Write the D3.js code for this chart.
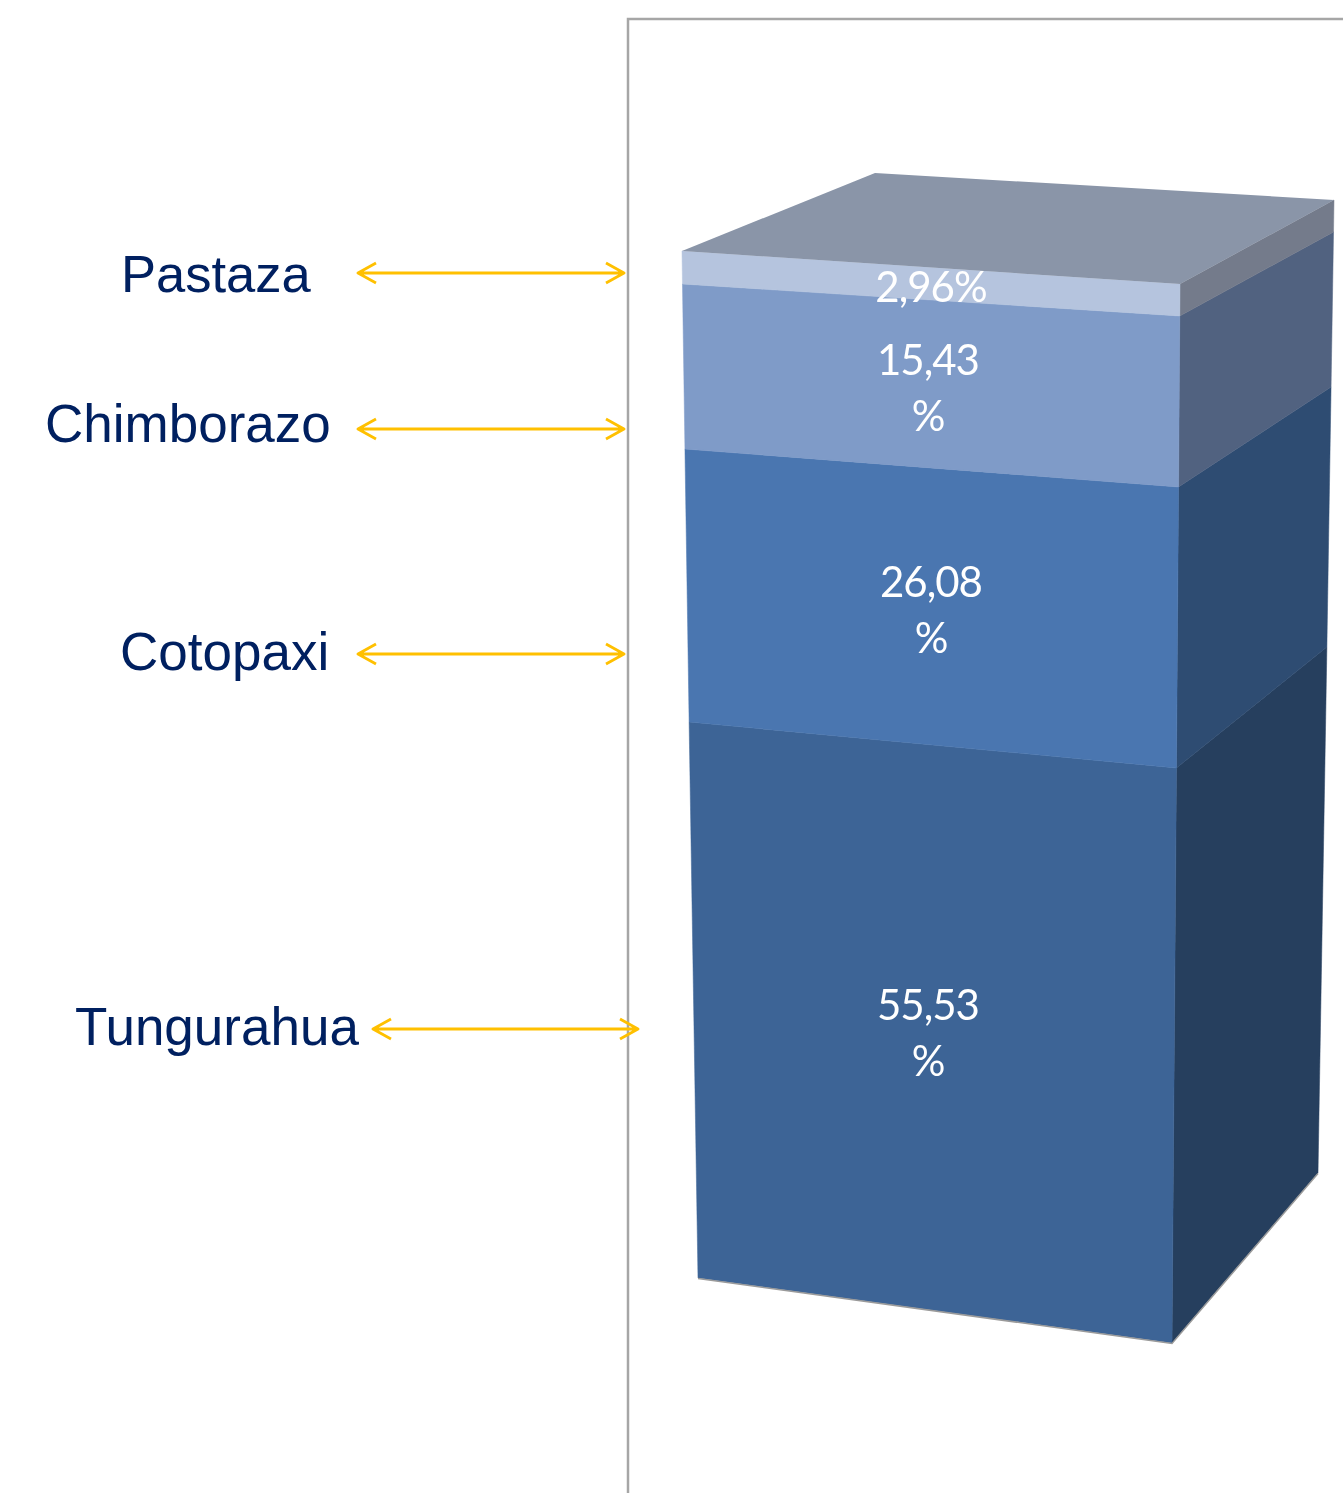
<!DOCTYPE html>
<html>
<head>
<meta charset="utf-8">
<script src="https://cdn.jsdelivr.net/npm/d3@7"></script>
<style>
html,body{margin:0;padding:0;background:#fff;overflow:hidden}
svg{display:block}
</style>
</head>
<body>
<svg id="chart" width="1343" height="1493"></svg>
<script>
// Data, bottom to top of the stack
const categories = ["Tungurahua", "Cotopaxi", "Chimborazo", "Pastaza"];
const values = [55.53, 26.08, 15.43, 2.96];
const valueLabels = [["55,53", "%"], ["26,08", "%"], ["15,43", "%"], ["2,96%"]];

// Colours
const frontColors = ["#3D6496", "#4A76B0", "#7F9BC8", "#B5C4DE"];
const sideColors = ["#263F5E", "#2E4C72", "#516280", "#747B8B"];
const topColor = "#8A95A8";

const svg = d3.select("#chart");

// Soft edge of the reference's resampled text
const defs = svg.append("defs");
defs.append("filter").attr("id", "soft")
  .append("feGaussianBlur").attr("stdDeviation", 0.45);

// Cumulative breakpoints of the stack
const stops = [0, ...d3.cumsum(values)];
const domainMax = stops[stops.length - 1];

// The perspective squeezes the stack unevenly, so each of the three visible
// vertical edges gets its own y scale over the same breakpoints.
const yFrontLeft = d3.scaleLinear().domain(stops).range([1278, 722, 449, 284, 251]);
const yFrontRight = d3.scaleLinear().domain(stops).range([1343, 768, 487, 316, 284]);
const yBackRight = d3.scaleLinear().domain(stops).range([1173, 647, 387, 232, 200]);
const xFrontLeft = d3.scaleLinear().domain([0, domainMax]).range([698, 682]);
const xFrontRight = d3.scaleLinear().domain([0, domainMax]).range([1172, 1180]);
const xBackRight = d3.scaleLinear().domain([0, domainMax]).range([1318, 1334]);

const front = d3.scaleOrdinal().domain(categories).range(frontColors);
const side = d3.scaleOrdinal().domain(categories).range(sideColors);

const line = d3.line();

const segments = categories.map((name, i) => ({
  name, i, value: values[i], lo: stops[i], hi: stops[i + 1], label: valueLabels[i]
}));

// Plot area frame
svg.append("path")
  .attr("d", line([[628, 1493], [628, 19], [1343, 19]]))
  .attr("fill", "none")
  .attr("stroke", "#A6A6A6")
  .attr("stroke-width", 2.5);

// Side faces
svg.append("g").selectAll("path").data(segments).join("path")
  .attr("d", d => line([
    [xFrontRight(d.lo), yFrontRight(d.lo)],
    [xBackRight(d.lo), yBackRight(d.lo)],
    [xBackRight(d.hi), yBackRight(d.hi)],
    [xFrontRight(d.hi), yFrontRight(d.hi)]
  ]) + "Z")
  .attr("fill", d => side(d.name))
  .attr("stroke", d => side(d.name))
  .attr("stroke-width", 0.5);

// Front faces
svg.append("g").selectAll("path").data(segments).join("path")
  .attr("d", d => line([
    [xFrontLeft(d.lo), yFrontLeft(d.lo)],
    [xFrontRight(d.lo), yFrontRight(d.lo)],
    [xFrontRight(d.hi), yFrontRight(d.hi)],
    [xFrontLeft(d.hi), yFrontLeft(d.hi)]
  ]) + "Z")
  .attr("fill", d => front(d.name))
  .attr("stroke", d => front(d.name))
  .attr("stroke-width", 0.5);

// Shadow hairline under the bar
svg.append("path")
  .attr("d", line([
    [xFrontLeft(0), yFrontLeft(0) + 0.5],
    [xFrontRight(0), yFrontRight(0) + 0.5],
    [xBackRight(0), yBackRight(0) + 0.5]
  ]))
  .attr("fill", "none")
  .attr("stroke", "#9A9A9A")
  .attr("stroke-width", 1.5);

// Top face: the back-left corner is hidden from the edge scales
const backLeftTop = [875, 173];
svg.append("path")
  .attr("d", line([
    [xFrontLeft(domainMax), yFrontLeft(domainMax)],
    backLeftTop,
    [xBackRight(domainMax), yBackRight(domainMax)],
    [xFrontRight(domainMax), yFrontRight(domainMax)]
  ]) + "Z")
  .attr("fill", topColor);

// Value labels
const labelFirstBaseline = [1020, 597, 375, 302];
const labelCenter = [928, 931, 928, 931];
const labelLeading = 56;
svg.append("g").attr("filter", "url(#soft)").selectAll("text").data(segments).join("text")
  .attr("text-anchor", "middle")
  .attr("font-family", "Lato, 'Open Sans', sans-serif")
  .attr("font-size", 42)
  .attr("letter-spacing", -1)
  .attr("fill", "#FFFFFF")
  .each(function (d) {
    d3.select(this).selectAll("tspan").data(d.label).join("tspan")
      .attr("x", labelCenter[d.i])
      .attr("y", (t, k) => labelFirstBaseline[d.i] + k * labelLeading)
      .text(t => t);
  });

// Category labels and double-headed arrows
const nameX = [75, 120, 45, 121];
const nameBaseline = [1045, 670, 442, 292];
const nameSize = [53, 53, 53, 52.5];
const arrowY = [1029, 654, 429, 273];
const arrowStart = [373, 358, 358, 358];
const arrowEnd = [638, 624, 624, 624];
const headLength = 18, headHalf = 10;

svg.append("g").selectAll("text").data(segments).join("text")
  .attr("x", d => nameX[d.i])
  .attr("y", d => nameBaseline[d.i])
  .attr("font-family", "'Liberation Sans', Arial, sans-serif")
  .attr("font-size", d => nameSize[d.i])
  .attr("fill", "#002060")
  .text(d => d.name);

const arrows = svg.append("g")
  .attr("fill", "none")
  .attr("stroke", "#FFC000")
  .attr("stroke-width", 2.8)
  .attr("stroke-linejoin", "round");
arrows.selectAll("path").data(segments).join("path")
  .attr("d", d => {
    const y = arrowY[d.i], a = arrowStart[d.i], b = arrowEnd[d.i];
    return line([[a, y], [b, y]]) +
      line([[a + headLength, y - headHalf], [a, y], [a + headLength, y + headHalf]]) +
      line([[b - headLength, y - headHalf], [b, y], [b - headLength, y + headHalf]]);
  });
</script>
</body>
</html>
